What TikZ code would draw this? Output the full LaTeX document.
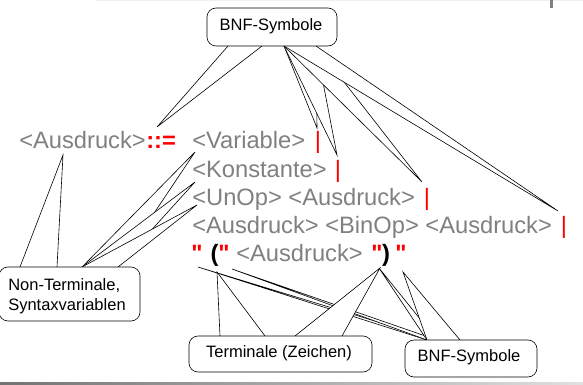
\documentclass[tikz,border=0pt]{standalone}
\usepackage{fontspec}
\setmainfont{Liberation Sans}
\definecolor{gramgray}{RGB}{128,128,128}
\definecolor{gramred}{RGB}{255,0,0}
\newcommand{\gramsize}{\fontsize{23.7}{24}\selectfont}
\begin{document}
\begin{tikzpicture}[x=1pt,y=-1pt,line width=0.6pt,
  wedge/.style={draw=black,fill=white,line join=miter},
  callout/.style={draw=black,fill=white,rounded corners=9pt,inner sep=0pt},
  calltext/.style={font=\fontsize{16.5}{20}\selectfont,text=black,inner sep=0pt},
  gram/.style={font=\gramsize,text=gramgray,inner sep=0pt,anchor=base west},
  sym/.style={font=\gramsize\bfseries,text=gramred,inner sep=0pt,anchor=base},
  paren/.style={font=\gramsize\bfseries,text=black,inner sep=0pt,anchor=base},
  altbar/.style={font=\gramsize,text=gramred,inner sep=0pt,anchor=base}]
\useasboundingbox (0,0) rectangle (583,385);

% slide frame: thin top rule, tick and shaded bottom bar
\draw[gray!12,line width=0.8pt] (95,0.4) -- (583,0.4);
\fill[gramgray] (550,0) rectangle (553,8);
\shade[left color=black!55,right color=black!12] (0,382) rectangle (583,385);

% ---- pointer anchors ----
% upper "BNF-Symbole" callout
\coordinate (tA1) at (228,46);  \coordinate (tA2) at (262,46);
\coordinate (tL)  at (284,46);  \coordinate (tR)  at (316,46);
\coordinate (tipEq) at (157,127);
\coordinate (tipB1) at (317,128); \coordinate (tipB2) at (337,155);
\coordinate (tipB3) at (422,182); \coordinate (tipB4) at (558,211);
% "Non-Terminale" callout
\coordinate (nA1) at (20,267);  \coordinate (nA2) at (57,267);
\coordinate (nL)  at (82,267);  \coordinate (nR)  at (118,267);
\coordinate (tipAus) at (63,155);
\coordinate (tipVar) at (195,152); \coordinate (tipKon) at (195,182);
\coordinate (tipUn)  at (197,205);
% lower "BNF-Symbole" callout
\coordinate (bL) at (427,340); \coordinate (bR) at (437,340); \coordinate (bR2) at (460,340);
\coordinate (tipQ1) at (198,267); \coordinate (tipQ2) at (232,269);
\coordinate (tipQ3) at (379,268); \coordinate (tipQ4) at (403,272);
% "Terminale" callout
\coordinate (mL1) at (220,336); \coordinate (mR1) at (265,336);
\coordinate (mL2) at (295,336); \coordinate (mR2) at (342,336);
\coordinate (tipPo) at (217,272); \coordinate (tipPc) at (380,268);

% ---- pointers (later ones cover earlier ones) ----
\path[wedge] (tA1) -- (tipEq) -- (tA2);
\path[wedge] (tL) -- (tipB1) -- (tR);
\path[wedge] (tL) -- (tipB2) -- (tR);
\path[wedge] (tL) -- (tipB3) -- (tR);
\path[wedge] (tL) -- (tipB4) -- (tR);

\path[wedge] (nA1) -- (tipAus) -- (nA2);
\path[wedge] (nL) -- (tipVar) -- (nR);
\path[wedge] (nL) -- (tipKon) -- (nR);
\path[wedge] (nL) -- (tipUn) -- (nR);

\path[wedge] (bL) -- (tipQ1) -- (bR);
\path[wedge] (bL) -- (tipQ2) -- (bR);
\path[wedge] (bL) -- (tipQ3) -- (bR);
\path[wedge] (bL) -- (tipQ4) -- (bR2);

\path[wedge] (mL1) -- (tipPo) -- (mR1);
\path[wedge] (mL2) -- (tipPc) -- (mR2);

% ---- callout boxes ----
\node[callout,minimum width=130pt,minimum height=38pt] (bnfTop) at (272,27) {};
\node[calltext,anchor=base] (bnfTopText) at (271,31) {BNF-Symbole};

\node[callout,minimum width=141pt,minimum height=54pt] (ntBox) at (69.5,294) {};
\node[calltext,anchor=base west] (ntText1) at (8,290) {Non-Terminale,};
\node[calltext,anchor=base west] (ntText2) at (8,310) {Syntaxvariablen};

\node[callout,minimum width=183pt,minimum height=36pt] (tBox) at (280.5,354) {};
\node[calltext,anchor=base] (tText) at (279,357) {Terminale (Zeichen)};

\node[callout,minimum width=132pt,minimum height=37pt] (bnfLow) at (471,358.5) {};
\node[calltext,anchor=base] (bnfLowText) at (469,361) {BNF-Symbole};

% ---- grammar rule ----
\node[gram] (lhs) at (19,148.5) {<Ausdruck>};
\node[sym,anchor=base west] (def) at (146,148.5) {::=};
\node[gram] (alt1) at (192,148.5) {<Variable>};
\node[gram] (alt2) at (192,177) {<Konstante>};
\node[gram] (alt3) at (192,205) {<UnOp> <Ausdruck>};
\node[gram] (alt4) at (192,233) {<Ausdruck> <BinOp> <Ausdruck>};
\node[altbar] (bar1) at (318,148.5) {|};
\node[altbar] (bar2) at (338,177) {|};
\node[altbar] (bar3) at (427,205) {|};
\node[altbar] (bar4) at (564,233) {|};
% fifth alternative: "(" <Ausdruck> ")"
\node[sym] (q1) at (197,261) {\textquotedbl};
\node[paren] (po) at (214.5,261) {(};
\node[sym] (q2) at (224,261) {\textquotedbl};
\node[gram] (alt5) at (236,261) {<Ausdruck>};
\node[sym] (q3) at (377,261) {\textquotedbl};
\node[paren] (pc) at (386,261) {)};
\node[sym] (q4) at (401,261) {\textquotedbl};
\end{tikzpicture}
\end{document}
